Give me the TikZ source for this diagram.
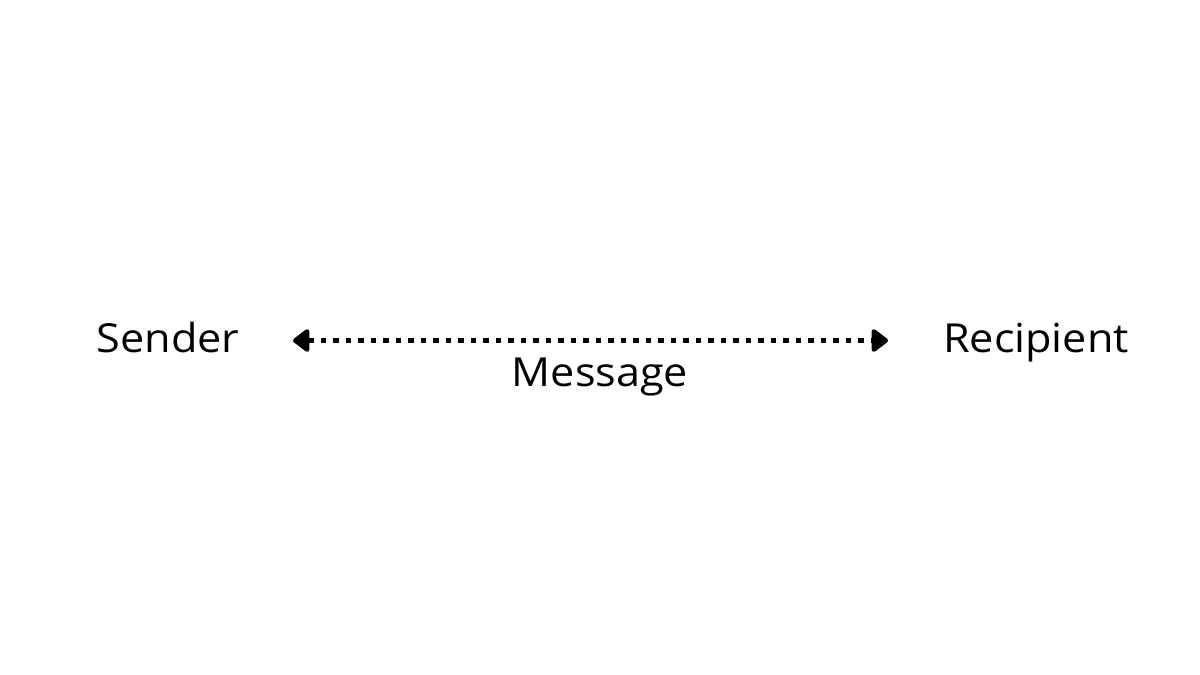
\documentclass[tikz,border=0pt]{standalone}
\usepackage{fontspec}
\setmainfont[FakeStretch=1.08]{Open Sans}
\usetikzlibrary{arrows.meta}
\begin{document}
\begin{tikzpicture}[x=1pt,y=-1pt,
  lbl/.style={anchor=base,inner sep=0pt,font=\fontsize{40}{44}\selectfont},
  msgline/.style={line width=5.5pt,dash pattern=on 5.5pt off 7pt,
    {Triangle[length=18pt,width=26pt,round]}-{Triangle[length=18pt,width=26pt,round]}}]
\useasboundingbox[fill=white] (0,0) rectangle (1200,675);
\node[lbl] (sender) at (168,352) {Sender};
\node[lbl] (recipient) at (1036,352) {Recipient};
\coordinate (aL) at (293,340.5);
\coordinate (aR) at (888,340.5);
\draw[msgline] (aL) -- (aR);
\node[lbl] (message) at (600,386) {Message};
\end{tikzpicture}
\end{document}
